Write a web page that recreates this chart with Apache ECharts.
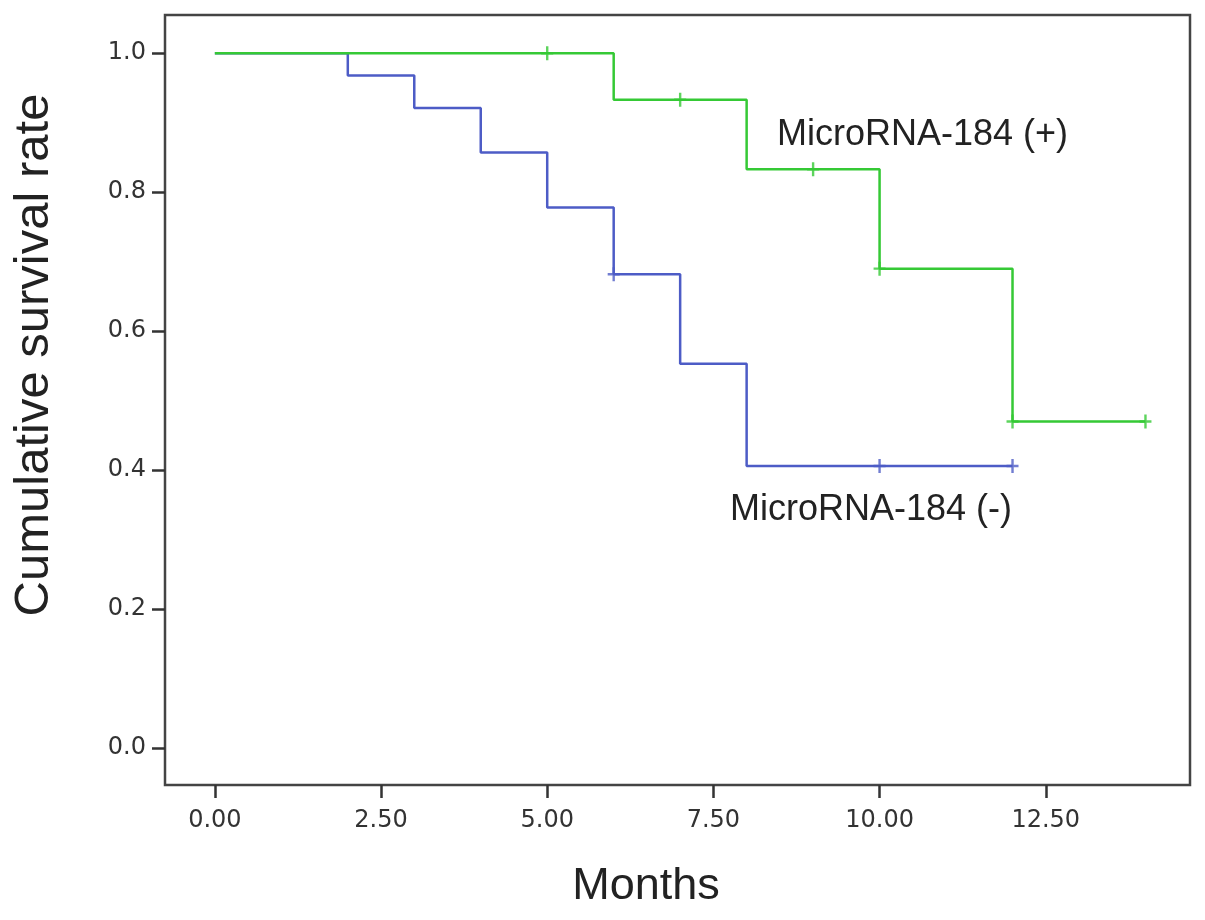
<!DOCTYPE html>
<html>
<head>
<meta charset="utf-8">
<script src="https://cdn.jsdelivr.net/npm/echarts@6/dist/echarts.min.js"></script>
<style>html,body{margin:0;padding:0;background:#fff}#c{width:1205px;height:920px}</style>
</head>
<body>
<div id="c"></div>
<script>
// Data
const xTicks = [0, 2.5, 5, 7.5, 10, 12.5];
const yTicks = [0, 0.2, 0.4, 0.6, 0.8, 1.0];

const posTimes = [0, 6, 8, 10, 12, 14];
const posSurv  = [1.0, 0.933, 0.833, 0.69, 0.47, 0.47];
const posCensorTimes = [5, 7, 9, 10, 12, 14];
const posCensorSurv  = [1.0, 0.933, 0.833, 0.69, 0.47, 0.47];

const negTimes = [0, 2, 3, 4, 5, 6, 7, 8, 12];
const negSurv  = [1.0, 0.968, 0.921, 0.857, 0.778, 0.682, 0.553, 0.406, 0.406];
const negCensorTimes = [6, 10, 12];
const negCensorSurv  = [0.682, 0.406, 0.406];

const posLabel = 'MicroRNA-184 (+)';
const negLabel = 'MicroRNA-184 (-)';
const xTitle = 'Months';
const yTitle = 'Cumulative survival rate';

const GREEN = '#35c935';
const BLUE = '#4d5cc6';
const FONT = '"Liberation Sans", Arial, Helvetica, sans-serif';
const TICKFONT = '"DejaVu Sans", Verdana, sans-serif';
const cross = 'path://M4.8,0 L7.2,0 L7.2,5.8 L12,5.8 L12,8.2 L7.2,8.2 L7.2,14 L4.8,14 L4.8,8.2 L0,8.2 L0,5.8 L4.8,5.8 Z';

const zip = (a, b) => a.map((v, i) => [v, b[i]]);

const chart = echarts.init(document.getElementById('c'));
chart.setOption({
  backgroundColor: '#fff',
  animation: false,
  grid: {
    left: 165, right: 15, top: 15, bottom: 135,
    show: true, borderColor: '#444', borderWidth: 2.5, backgroundColor: '#fff'
  },
  xAxis: {
    type: 'value', min: -0.75, max: 14.67,
    axisLine: { show: false, onZero: false },
    splitLine: { show: false },
    axisTick: { show: true, length: 13, customValues: xTicks, lineStyle: { color: '#333', width: 2.5 } },
    axisLabel: { customValues: xTicks, fontSize: 24, color: '#333', fontFamily: TICKFONT, margin: 24,
      formatter: v => v.toFixed(2) }
  },
  yAxis: {
    type: 'value', min: -0.053, max: 1.055,
    axisLine: { show: false, onZero: false },
    splitLine: { show: false },
    axisTick: { show: true, length: 13, customValues: yTicks, lineStyle: { color: '#333', width: 2.5 } },
    axisLabel: { customValues: yTicks, fontSize: 24, color: '#333', fontFamily: TICKFONT, margin: 19,
      formatter: v => v.toFixed(1) }
  },
  series: [
    { type: 'line', step: 'end', data: zip(negTimes, negSurv), showSymbol: false,
      lineStyle: { color: BLUE, width: 2.5 }, z: 2 },
    { type: 'line', step: 'end', data: zip(posTimes, posSurv), showSymbol: false,
      lineStyle: { color: GREEN, width: 2.5 }, z: 3 },
    { type: 'scatter', data: zip(negCensorTimes, negCensorSurv), symbol: cross, symbolSize: [12, 14],
      itemStyle: { color: BLUE }, z: 4 },
    { type: 'scatter', data: zip(posCensorTimes, posCensorSurv), symbol: cross, symbolSize: [12, 14],
      itemStyle: { color: GREEN }, z: 5 }
  ],
  graphic: [
    { type: 'text', x: 777, y: 135, style: { text: posLabel, fontSize: 36, fill: '#222', fontFamily: FONT,
      textAlign: 'left', textVerticalAlign: 'middle' } },
    { type: 'text', x: 730, y: 510, style: { text: negLabel, fontSize: 36, fill: '#222', fontFamily: FONT,
      textAlign: 'left', textVerticalAlign: 'middle' } },
    { type: 'text', x: 646, y: 887, style: { text: xTitle, fontSize: 45, fill: '#222', fontFamily: FONT,
      textAlign: 'center', textVerticalAlign: 'middle' } },
    { type: 'text', x: 34, y: 355, rotation: Math.PI / 2, style: { text: yTitle, fontSize: 49, fill: '#222', fontFamily: FONT,
      textAlign: 'center', textVerticalAlign: 'middle' } }
  ]
});
</script>
</body>
</html>
